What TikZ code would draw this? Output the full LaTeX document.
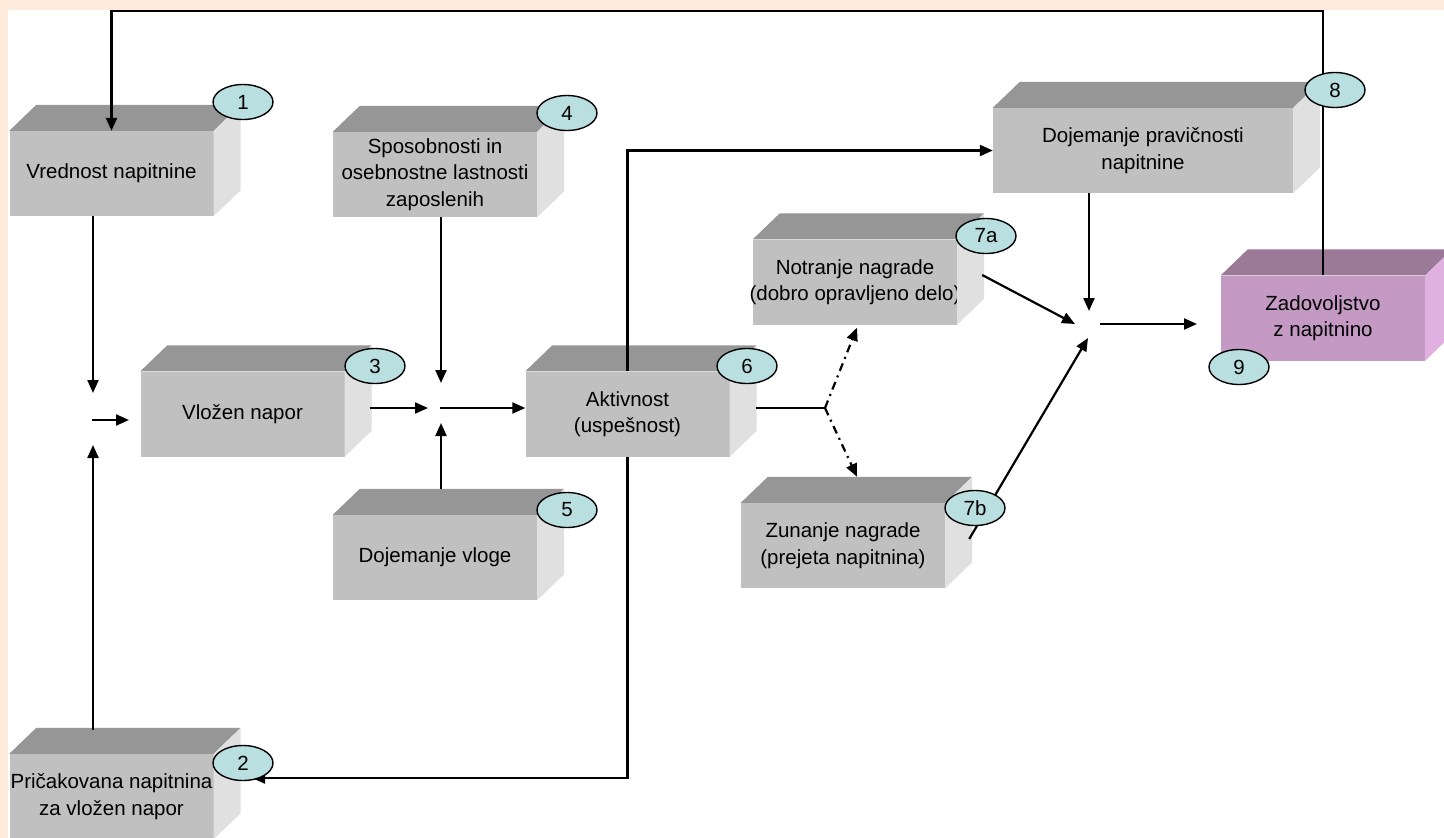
\documentclass[tikz,border=0pt]{standalone}
\usepackage{fontspec}
\setmainfont{Liberation Sans}
\usetikzlibrary{arrows.meta,calc,shapes.geometric}
\definecolor{peach}{RGB}{253,234,218}
\definecolor{fgray}{RGB}{192,192,192}
\definecolor{tgray}{RGB}{150,150,150}
\definecolor{sgray}{RGB}{224,224,224}
\definecolor{fpurp}{RGB}{196,154,196}
\definecolor{tpurp}{RGB}{155,122,152}
\definecolor{spurp}{RGB}{224,176,224}
\definecolor{ecyan}{RGB}{186,223,225}
\newcommand\boxline[1]{\makebox[190pt]{#1}}
\newcommand\boxfaces[3]{%
  \fill[#2] (#1.north west) -- ($(#1.north west)+(27,-26)$) -- ($(#1.north east)+(27,-26)$) -- (#1.north east) -- cycle;
  \fill[#3] (#1.north east) -- ($(#1.north east)+(27,-26)$) -- ($(#1.south east)+(27,-26)$) -- (#1.south east) -- cycle;}
\begin{document}
\begin{tikzpicture}[x=1pt,y=-1pt,
  front/.style={rectangle, fill=fgray, minimum width=204pt, minimum height=85pt, inner sep=0pt,
    align=center, font=\fontsize{20.5}{26.5}\selectfont},
  num/.style={ellipse, draw=black, line width=1.4pt, fill=ecyan, minimum width=60pt, minimum height=35pt,
    inner sep=0pt, font=\fontsize{20.5}{24}\selectfont},
  conn/.style={line width=2.2pt},
  arr/.style={conn, -{Triangle[length=13pt,width=11pt]}},
  dashdot/.style={dash pattern=on 8pt off 5pt on 2pt off 5pt}]
\useasboundingbox (0,0) rectangle (1444,838);
\fill[peach] (0,0) rectangle (1444,838);
\fill[white] (8,10) rectangle (1444,838);

% boxes
\node[front] (b1) at (111.5,173.5) {\boxline{Vrednost napitnine}};
\node[front] (b2) at (111.5,796.5) {\boxline{Pričakovana napitnina}\\\boxline{za vložen napor}};
\node[front] (b3) at (242.5,414) {\boxline{Vložen napor}};
\node[front] (b4) at (435,174.5) {\boxline{Sposobnosti in}\\\boxline{osebnostne lastnosti}\\\boxline{zaposlenih}};
\node[front] (b5) at (435,557.5) {\boxline{Dojemanje vloge}};
\node[front] (b6) at (627.5,414) {\boxline{Aktivnost}\\\boxline{(uspešnost)}};
\node[front] (b7a) at (855,282) {\boxline{Notranje nagrade}\\\boxline{(dobro opravljeno delo)}};
\node[front] (b7b) at (843,545.5) {\boxline{Zunanje nagrade}\\\boxline{(prejeta napitnina)}};
\node[front, minimum width=300pt] (b8) at (1143,150.5) {\boxline{Dojemanje pravičnosti}\\\boxline{napitnine}};
\node[front, fill=fpurp] (b9) at (1323,318) {\boxline{Zadovoljstvo}\\\boxline{z napitnino}};

\boxfaces{b1}{tgray}{sgray}
\boxfaces{b2}{tgray}{sgray}
\boxfaces{b3}{tgray}{sgray}
\boxfaces{b4}{tgray}{sgray}
\boxfaces{b5}{tgray}{sgray}
\boxfaces{b6}{tgray}{sgray}
\boxfaces{b7a}{tgray}{sgray}
\boxfaces{b7b}{tgray}{sgray}
\boxfaces{b8}{tgray}{sgray}
\boxfaces{b9}{tpurp}{spurp}

% junction coordinates
\coordinate (topy) at (0,11);
\coordinate (j1n) at (93,393);
\coordinate (j1s) at (93,445);
\coordinate (j1w) at (92,420);
\coordinate (j1e) at (129,420);
\coordinate (j2w) at (428,408);
\coordinate (j2n) at (441,383);
\coordinate (j2s) at (441,423);
\coordinate (j2e) at (440,408);
\coordinate (c2) at (252,778);
\coordinate (sp) at (825,408);
\coordinate (j3nw) at (1075,324);
\coordinate (j3sw) at (1088,338);
\coordinate (j3n) at (1089,311);
\coordinate (j3e) at (1100,324);
\coordinate (c9) at (1197,324);

% connectors
\draw[arr] (b9.north) |- (b1.north |- topy) -- (b1.north);
\draw[arr] (b1.south -| j1n) -- (j1n);
\draw[arr] ($(b2.north -| j1s)+(0,-24)$) -- (j1s);
\draw[arr] (j1w) -- (j1e);
\draw[arr] ($(b3.east)+(25,-6)$) -- (j2w);
\draw[arr] (b4.south -| j2n) -- (j2n);
\draw[arr] ($(b5.north -| j2s)+(0,-26)$) -- (j2s);
\draw[arr] (j2e) -- (b6.west |- j2e);
\draw[arr] (b6.north) |- (b8.west);
\draw[arr] (b6.south) |- (c2);
\draw[conn] ($(b6.east)+(26,-6)$) -- (sp);
\draw[arr, dashdot] (sp) -- ($(b7a.south)+(2,3)$);
\draw[arr, dashdot] (sp) -- ($(b7b.north)+(14,-26)$);
\draw[arr] ($(b7a.east)+(25,-7)$) -- (j3nw);
\draw[arr] ($(b7b.east)+(24,-6.5)$) -- (j3sw);
\draw[arr] (b8.south -| j3n) -- (j3n);
\draw[arr] (j3e) -- (c9);

% number ellipses
\node[num] (e1) at (243,102) {1};
\node[num] (e2) at (243,763) {2};
\node[num] (e3) at (375,366) {3};
\node[num] (e4) at (567,113) {4};
\node[num] (e5) at (567,510) {5};
\node[num] (e6) at (747,366) {6};
\node[num] (e7a) at (986,236) {7a};
\node[num] (e7b) at (975,508) {7b};
\node[num] (e8) at (1335,90) {8};
\node[num] (e9) at (1239,367) {9};
\end{tikzpicture}
\end{document}
